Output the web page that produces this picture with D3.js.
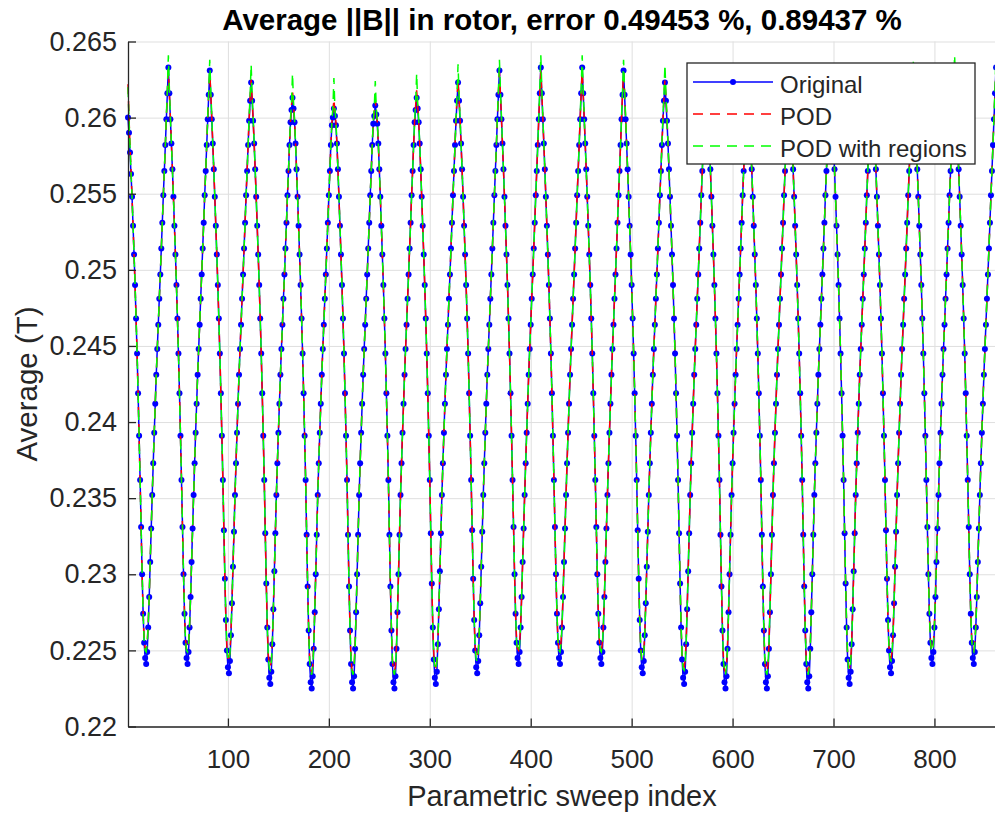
<!DOCTYPE html>
<html>
<head>
<meta charset="utf-8">
<script src="https://cdn.jsdelivr.net/npm/d3@7"></script>
<style>
  html, body { margin: 0; padding: 0; background: #fff; }
  svg { display: block; font-family: "Liberation Sans", Arial, Helvetica, sans-serif; }
</style>
</head>
<body>
<svg id="chart" width="995" height="814"></svg>
<script>
// Values, in units of 1e-4 T; one line per block of 41 sweep points.
var original = [
  2600,2590,2577,2563,2548,2529,2510,2490,2468,2445,2419,2391,2362,2331,2300,2274,2255,2245,2241,2249,2265,2285,2308,2330,2352,2373,2393,2412,2431,2448,2464,2481,2497,2514,2531,2549,2565,2582,2599,2616,2633,
  2616,2599,2583,2566,2548,2529,2510,2490,2468,2445,2419,2391,2362,2331,2300,2274,2255,2245,2241,2249,2265,2285,2308,2330,2352,2373,2393,2412,2431,2448,2464,2481,2497,2514,2531,2549,2565,2582,2599,2615,2631,
  2615,2599,2583,2566,2548,2529,2510,2490,2468,2445,2419,2391,2362,2329,2297,2270,2250,2239,2235,2243,2260,2281,2305,2328,2352,2373,2393,2412,2431,2448,2464,2481,2497,2514,2531,2549,2565,2582,2598,2611,2623,
  2611,2598,2583,2566,2548,2529,2510,2490,2468,2445,2419,2391,2362,2327,2294,2265,2244,2232,2228,2236,2254,2277,2302,2327,2352,2373,2393,2412,2431,2448,2464,2481,2497,2514,2531,2549,2565,2582,2597,2605,2613,
  2606,2597,2583,2566,2548,2529,2510,2490,2468,2445,2419,2391,2362,2326,2292,2263,2241,2229,2225,2233,2251,2275,2300,2326,2352,2373,2393,2412,2431,2448,2464,2481,2497,2514,2531,2549,2565,2582,2595,2600,2606,
  2601,2595,2583,2566,2548,2529,2510,2490,2468,2445,2419,2391,2362,2326,2292,2263,2241,2229,2225,2233,2251,2275,2300,2326,2352,2373,2393,2412,2431,2448,2464,2481,2497,2514,2531,2549,2565,2582,2596,2601,2608,
  2602,2596,2583,2566,2548,2529,2510,2490,2468,2445,2419,2391,2362,2326,2292,2263,2241,2229,2225,2233,2251,2275,2300,2326,2352,2373,2393,2412,2431,2448,2464,2481,2497,2514,2531,2549,2565,2582,2597,2605,2613,
  2606,2597,2583,2566,2548,2529,2510,2490,2468,2445,2419,2391,2362,2327,2294,2265,2244,2232,2228,2236,2254,2277,2302,2327,2352,2373,2393,2412,2431,2448,2464,2481,2497,2514,2531,2549,2565,2582,2598,2611,2623,
  2611,2598,2583,2566,2548,2529,2510,2490,2468,2445,2419,2391,2362,2329,2297,2270,2250,2239,2235,2243,2260,2281,2305,2328,2352,2373,2393,2412,2431,2448,2464,2481,2497,2514,2531,2549,2565,2582,2599,2615,2631,
  2615,2599,2583,2566,2548,2529,2510,2490,2468,2445,2419,2391,2362,2331,2300,2274,2255,2245,2241,2249,2265,2285,2308,2330,2352,2373,2393,2412,2431,2448,2464,2481,2497,2514,2531,2549,2565,2582,2599,2616,2633,
  2616,2599,2583,2566,2548,2529,2510,2490,2468,2445,2419,2391,2362,2331,2300,2274,2255,2245,2241,2249,2265,2285,2308,2330,2352,2373,2393,2412,2431,2448,2464,2481,2497,2514,2531,2549,2565,2582,2599,2616,2633,
  2616,2599,2583,2566,2548,2529,2510,2490,2468,2445,2419,2391,2362,2331,2300,2274,2255,2245,2241,2249,2265,2285,2308,2330,2352,2373,2393,2412,2431,2448,2464,2481,2497,2514,2531,2549,2565,2582,2599,2615,2631,
  2615,2599,2583,2566,2548,2529,2510,2490,2468,2445,2419,2391,2362,2329,2297,2270,2250,2239,2235,2243,2260,2281,2305,2328,2352,2373,2393,2412,2431,2448,2464,2481,2497,2514,2531,2549,2565,2582,2598,2611,2623,
  2611,2598,2583,2566,2548,2529,2510,2490,2468,2445,2419,2391,2362,2327,2294,2265,2244,2232,2228,2236,2254,2277,2302,2327,2352,2373,2393,2412,2431,2448,2464,2481,2497,2514,2531,2549,2565,2582,2597,2605,2613,
  2606,2597,2583,2566,2548,2529,2510,2490,2468,2445,2419,2391,2362,2326,2292,2263,2241,2229,2225,2233,2251,2275,2300,2326,2352,2373,2393,2412,2431,2448,2464,2481,2497,2514,2531,2549,2565,2582,2595,2600,2606,
  2601,2595,2583,2566,2548,2529,2510,2490,2468,2445,2419,2391,2362,2326,2292,2263,2241,2229,2225,2233,2251,2275,2300,2326,2352,2373,2393,2412,2431,2448,2464,2481,2497,2514,2531,2549,2565,2582,2596,2601,2608,
  2602,2596,2583,2566,2548,2529,2510,2490,2468,2445,2419,2391,2362,2326,2292,2263,2241,2229,2225,2233,2251,2275,2300,2326,2352,2373,2393,2412,2431,2448,2464,2481,2497,2514,2531,2549,2565,2582,2597,2605,2613,
  2606,2597,2583,2566,2548,2529,2510,2490,2468,2445,2419,2391,2362,2327,2294,2265,2244,2232,2228,2236,2254,2277,2302,2327,2352,2373,2393,2412,2431,2448,2464,2481,2497,2514,2531,2549,2565,2582,2598,2611,2623,
  2611,2598,2583,2566,2548,2529,2510,2490,2468,2445,2419,2391,2362,2329,2297,2270,2250,2239,2235,2243,2260,2281,2305,2328,2352,2373,2393,2412,2431,2448,2464,2481,2497,2514,2531,2549,2565,2582,2599,2615,2631,
  2615,2599,2583,2566,2548,2529,2510,2490,2468,2445,2419,2391,2362,2331,2300,2274,2255,2245,2241,2249,2265,2285,2308,2330,2352,2373,2393,2412,2431,2448,2464,2481,2497,2514,2531,2549,2565,2582,2599,2616,2633,
  2616,2599,2583,2566,2548,2529,2510,2490,2468,2445,2419,2391,2362,2331,2300,2274,2255,2245,2241,2249,2265,2285,2308,2330,2352,2373,2393,2412,2431,2448,2464,2481,2497,2514,2531,2549,2565,2582,2599,2616,2633
];

var pod = [
  2622,2600,2582,2565,2548,2529,2510,2490,2468,2445,2419,2391,2362,2331,2300,2274,2257,2251,2250,2255,2267,2285,2308,2330,2352,2373,2393,2412,2431,2448,2464,2481,2497,2514,2531,2549,2565,2582,2600,2616,2631,
  2616,2600,2583,2566,2548,2529,2510,2490,2468,2445,2419,2391,2362,2331,2300,2274,2257,2251,2250,2255,2267,2285,2308,2330,2352,2373,2393,2412,2431,2448,2464,2481,2497,2514,2531,2549,2565,2582,2600,2616,2630,
  2616,2600,2583,2566,2548,2529,2510,2490,2468,2445,2419,2391,2362,2329,2297,2270,2252,2245,2245,2249,2262,2281,2305,2328,2352,2373,2393,2412,2431,2448,2464,2481,2497,2514,2531,2549,2565,2582,2599,2613,2625,
  2613,2599,2583,2566,2548,2529,2510,2490,2468,2445,2419,2391,2362,2327,2294,2266,2247,2240,2239,2243,2256,2277,2302,2327,2352,2373,2393,2412,2431,2448,2464,2481,2497,2514,2531,2549,2565,2582,2598,2608,2618,
  2608,2598,2583,2566,2548,2529,2510,2490,2468,2445,2419,2391,2362,2326,2292,2264,2244,2237,2236,2240,2253,2275,2300,2326,2352,2373,2393,2412,2431,2448,2464,2481,2497,2514,2531,2549,2565,2582,2597,2604,2612,
  2604,2597,2583,2566,2548,2529,2510,2490,2468,2445,2419,2391,2362,2326,2292,2264,2244,2237,2236,2240,2253,2275,2300,2326,2352,2373,2393,2412,2431,2448,2464,2481,2497,2514,2531,2549,2565,2582,2597,2604,2612,
  2604,2597,2583,2566,2548,2529,2510,2490,2468,2445,2419,2391,2362,2326,2292,2264,2244,2237,2236,2240,2253,2275,2300,2326,2352,2373,2393,2412,2431,2448,2464,2481,2497,2514,2531,2549,2565,2582,2598,2608,2618,
  2608,2598,2583,2566,2548,2529,2510,2490,2468,2445,2419,2391,2362,2327,2294,2266,2247,2240,2239,2243,2256,2277,2302,2327,2352,2373,2393,2412,2431,2448,2464,2481,2497,2514,2531,2549,2565,2582,2599,2613,2625,
  2613,2599,2583,2566,2548,2529,2510,2490,2468,2445,2419,2391,2362,2329,2297,2270,2252,2245,2245,2249,2262,2281,2305,2328,2352,2373,2393,2412,2431,2448,2464,2481,2497,2514,2531,2549,2565,2582,2600,2616,2630,
  2616,2600,2583,2566,2548,2529,2510,2490,2468,2445,2419,2391,2362,2331,2300,2274,2257,2251,2250,2255,2267,2285,2308,2330,2352,2373,2393,2412,2431,2448,2464,2481,2497,2514,2531,2549,2565,2582,2600,2616,2631,
  2616,2600,2583,2566,2548,2529,2510,2490,2468,2445,2419,2391,2362,2331,2300,2274,2257,2251,2250,2255,2267,2285,2308,2330,2352,2373,2393,2412,2431,2448,2464,2481,2497,2514,2531,2549,2565,2582,2600,2616,2631,
  2616,2600,2583,2566,2548,2529,2510,2490,2468,2445,2419,2391,2362,2331,2300,2274,2257,2251,2250,2255,2267,2285,2308,2330,2352,2373,2393,2412,2431,2448,2464,2481,2497,2514,2531,2549,2565,2582,2600,2616,2630,
  2616,2600,2583,2566,2548,2529,2510,2490,2468,2445,2419,2391,2362,2329,2297,2270,2252,2245,2245,2249,2262,2281,2305,2328,2352,2373,2393,2412,2431,2448,2464,2481,2497,2514,2531,2549,2565,2582,2599,2613,2625,
  2613,2599,2583,2566,2548,2529,2510,2490,2468,2445,2419,2391,2362,2327,2294,2266,2247,2240,2239,2243,2256,2277,2302,2327,2352,2373,2393,2412,2431,2448,2464,2481,2497,2514,2531,2549,2565,2582,2598,2608,2618,
  2608,2598,2583,2566,2548,2529,2510,2490,2468,2445,2419,2391,2362,2326,2292,2264,2244,2237,2236,2240,2253,2275,2300,2326,2352,2373,2393,2412,2431,2448,2464,2481,2497,2514,2531,2549,2565,2582,2597,2604,2612,
  2604,2597,2583,2566,2548,2529,2510,2490,2468,2445,2419,2391,2362,2326,2292,2264,2244,2237,2236,2240,2253,2275,2300,2326,2352,2373,2393,2412,2431,2448,2464,2481,2497,2514,2531,2549,2565,2582,2597,2604,2612,
  2604,2597,2583,2566,2548,2529,2510,2490,2468,2445,2419,2391,2362,2326,2292,2264,2244,2237,2236,2240,2253,2275,2300,2326,2352,2373,2393,2412,2431,2448,2464,2481,2497,2514,2531,2549,2565,2582,2598,2608,2618,
  2608,2598,2583,2566,2548,2529,2510,2490,2468,2445,2419,2391,2362,2327,2294,2266,2247,2240,2239,2243,2256,2277,2302,2327,2352,2373,2393,2412,2431,2448,2464,2481,2497,2514,2531,2549,2565,2582,2599,2613,2625,
  2613,2599,2583,2566,2548,2529,2510,2490,2468,2445,2419,2391,2362,2329,2297,2270,2252,2245,2245,2249,2262,2281,2305,2328,2352,2373,2393,2412,2431,2448,2464,2481,2497,2514,2531,2549,2565,2582,2600,2616,2630,
  2616,2600,2583,2566,2548,2529,2510,2490,2468,2445,2419,2391,2362,2331,2300,2274,2257,2251,2250,2255,2267,2285,2308,2330,2352,2373,2393,2412,2431,2448,2464,2481,2497,2514,2531,2549,2565,2582,2600,2616,2631,
  2616,2600,2583,2566,2548,2529,2510,2490,2468,2445,2419,2391,2362,2331,2300,2274,2257,2251,2250,2255,2267,2285,2308,2330,2352,2373,2393,2412,2431,2448,2464,2481,2497,2514,2531,2549,2565,2582,2600,2616,2631
];

var podRegions = [
  2620,2599,2581,2564,2548,2529,2510,2490,2468,2445,2419,2391,2362,2331,2301,2275,2256,2250,2249,2254,2266,2286,2308,2330,2352,2373,2393,2412,2431,2448,2464,2481,2497,2514,2531,2549,2565,2582,2601,2619,2641,
  2619,2601,2583,2566,2548,2529,2510,2490,2468,2445,2419,2391,2362,2331,2301,2275,2256,2250,2249,2254,2266,2286,2308,2330,2352,2373,2393,2412,2431,2448,2464,2481,2497,2514,2531,2549,2565,2582,2601,2618,2638,
  2618,2601,2583,2566,2548,2529,2510,2490,2468,2445,2419,2391,2362,2329,2298,2271,2251,2244,2243,2248,2261,2282,2305,2328,2352,2373,2393,2412,2431,2448,2464,2481,2497,2514,2531,2549,2565,2582,2600,2615,2635,
  2615,2600,2583,2566,2548,2529,2510,2490,2468,2445,2419,2391,2362,2327,2295,2266,2246,2238,2237,2242,2255,2278,2302,2327,2352,2373,2393,2412,2431,2448,2464,2481,2497,2514,2531,2549,2565,2582,2599,2610,2629,
  2610,2599,2583,2566,2548,2529,2510,2490,2468,2445,2419,2391,2362,2326,2293,2264,2243,2236,2234,2239,2252,2276,2300,2326,2352,2373,2393,2412,2431,2448,2464,2481,2497,2514,2531,2549,2565,2582,2598,2606,2626,
  2606,2598,2583,2566,2548,2529,2510,2490,2468,2445,2419,2391,2362,2326,2293,2264,2243,2236,2234,2239,2252,2276,2300,2326,2352,2373,2393,2412,2431,2448,2464,2481,2497,2514,2531,2549,2565,2582,2598,2606,2624,
  2606,2598,2583,2566,2548,2529,2510,2490,2468,2445,2419,2391,2362,2326,2293,2264,2243,2236,2234,2239,2252,2276,2300,2326,2352,2373,2393,2412,2431,2448,2464,2481,2497,2514,2531,2549,2565,2582,2599,2610,2629,
  2610,2599,2583,2566,2548,2529,2510,2490,2468,2445,2419,2391,2362,2327,2295,2266,2246,2238,2237,2242,2255,2278,2302,2327,2352,2373,2393,2412,2431,2448,2464,2481,2497,2514,2531,2549,2565,2582,2600,2615,2635,
  2615,2600,2583,2566,2548,2529,2510,2490,2468,2445,2419,2391,2362,2329,2298,2271,2251,2244,2243,2248,2261,2282,2305,2328,2352,2373,2393,2412,2431,2448,2464,2481,2497,2514,2531,2549,2565,2582,2601,2618,2638,
  2618,2601,2583,2566,2548,2529,2510,2490,2468,2445,2419,2391,2362,2331,2301,2275,2256,2250,2249,2254,2266,2286,2308,2330,2352,2373,2393,2412,2431,2448,2464,2481,2497,2514,2531,2549,2565,2582,2601,2619,2641,
  2619,2601,2583,2566,2548,2529,2510,2490,2468,2445,2419,2391,2362,2331,2301,2275,2256,2250,2249,2254,2266,2286,2308,2330,2352,2373,2393,2412,2431,2448,2464,2481,2497,2514,2531,2549,2565,2582,2601,2619,2641,
  2619,2601,2583,2566,2548,2529,2510,2490,2468,2445,2419,2391,2362,2331,2301,2275,2256,2250,2249,2254,2266,2286,2308,2330,2352,2373,2393,2412,2431,2448,2464,2481,2497,2514,2531,2549,2565,2582,2601,2618,2638,
  2618,2601,2583,2566,2548,2529,2510,2490,2468,2445,2419,2391,2362,2329,2298,2271,2251,2244,2243,2248,2261,2282,2305,2328,2352,2373,2393,2412,2431,2448,2464,2481,2497,2514,2531,2549,2565,2582,2600,2615,2635,
  2615,2600,2583,2566,2548,2529,2510,2490,2468,2445,2419,2391,2362,2327,2295,2266,2246,2238,2237,2242,2255,2278,2302,2327,2352,2373,2393,2412,2431,2448,2464,2481,2497,2514,2531,2549,2565,2582,2599,2610,2629,
  2610,2599,2583,2566,2548,2529,2510,2490,2468,2445,2419,2391,2362,2326,2293,2264,2243,2236,2234,2239,2252,2276,2300,2326,2352,2373,2393,2412,2431,2448,2464,2481,2497,2514,2531,2549,2565,2582,2598,2606,2626,
  2606,2598,2583,2566,2548,2529,2510,2490,2468,2445,2419,2391,2362,2326,2293,2264,2243,2236,2234,2239,2252,2276,2300,2326,2352,2373,2393,2412,2431,2448,2464,2481,2497,2514,2531,2549,2565,2582,2598,2606,2624,
  2606,2598,2583,2566,2548,2529,2510,2490,2468,2445,2419,2391,2362,2326,2293,2264,2243,2236,2234,2239,2252,2276,2300,2326,2352,2373,2393,2412,2431,2448,2464,2481,2497,2514,2531,2549,2565,2582,2599,2610,2629,
  2610,2599,2583,2566,2548,2529,2510,2490,2468,2445,2419,2391,2362,2327,2295,2266,2246,2238,2237,2242,2255,2278,2302,2327,2352,2373,2393,2412,2431,2448,2464,2481,2497,2514,2531,2549,2565,2582,2600,2615,2635,
  2615,2600,2583,2566,2548,2529,2510,2490,2468,2445,2419,2391,2362,2329,2298,2271,2251,2244,2243,2248,2261,2282,2305,2328,2352,2373,2393,2412,2431,2448,2464,2481,2497,2514,2531,2549,2565,2582,2601,2618,2638,
  2618,2601,2583,2566,2548,2529,2510,2490,2468,2445,2419,2391,2362,2331,2301,2275,2256,2250,2249,2254,2266,2286,2308,2330,2352,2373,2393,2412,2431,2448,2464,2481,2497,2514,2531,2549,2565,2582,2601,2619,2641,
  2619,2601,2583,2566,2548,2529,2510,2490,2468,2445,2419,2391,2362,2331,2301,2275,2256,2250,2249,2254,2266,2286,2308,2330,2352,2373,2393,2412,2431,2448,2464,2481,2497,2514,2531,2549,2565,2582,2601,2619,2641
];

var xTicks = [100, 200, 300, 400, 500, 600, 700, 800];
var yTicks = [0.22, 0.225, 0.23, 0.235, 0.24, 0.245, 0.25, 0.255, 0.26, 0.265];
var yTickLabels = ['0.22', '0.225', '0.23', '0.235', '0.24', '0.245', '0.25', '0.255', '0.26', '0.265'];
var legendLabels = ['Original', 'POD', 'POD with regions'];
var titleText = 'Average ||B|| in rotor, error 0.49453 %, 0.89437 %';
var xLabel = 'Parametric sweep index';
var yLabel = 'Average (T)';

(function () {
  'use strict';

  var W = 995, H = 814;
  var plot = { left: 128, right: 996, top: 41.5, bottom: 726.5 };
  var ink = '#262626';
  var gridColor = '#dfdfdf';

  var svg = d3.select('#chart');
  svg.append('rect').attr('width', W).attr('height', H).attr('fill', '#fff');

  var x = d3.scaleLinear().domain([1, original.length]).range([plot.left, plot.right]);
  var y = d3.scaleLinear().domain([0.22, 0.265]).range([plot.bottom, plot.top]);

  // grid lines
  svg.append('g')
    .attr('transform', 'translate(0,' + plot.bottom + ')')
    .call(d3.axisBottom(x).tickValues(xTicks).tickSize(-(plot.bottom - plot.top)).tickFormat(''))
    .call(function (g) {
      g.select('.domain').remove();
      g.selectAll('line').attr('stroke', gridColor).attr('stroke-width', 1);
    });
  svg.append('g')
    .attr('transform', 'translate(' + plot.left + ',0)')
    .call(d3.axisLeft(y).tickValues(yTicks).tickSize(-(plot.right - plot.left)).tickFormat(''))
    .call(function (g) {
      g.select('.domain').remove();
      g.selectAll('line').attr('stroke', gridColor).attr('stroke-width', 1);
    });

  var line = d3.line()
    .x(function (d, i) { return x(i + 1); })
    .y(function (d) { return y(d / 1e4); });

  var series = svg.append('g');

  // Original: blue solid with dot markers
  series.append('path')
    .datum(original)
    .attr('d', line)
    .attr('fill', 'none')
    .attr('stroke', '#0000ff')
    .attr('stroke-width', 1.5);
  series.selectAll('.dot')
    .data(original)
    .enter()
    .append('circle')
    .attr('class', 'dot')
    .attr('cx', function (d, i) { return x(i + 1); })
    .attr('cy', function (d) { return y(d / 1e4); })
    .attr('r', 3)
    .attr('fill', '#0000ff');

  // POD and POD with regions: dashed on top
  series.append('path')
    .datum(pod)
    .attr('d', line)
    .attr('fill', 'none')
    .attr('stroke', '#ff0000')
    .attr('stroke-width', 1.5)
    .attr('stroke-dasharray', '10,7');
  series.append('path')
    .datum(podRegions)
    .attr('d', line)
    .attr('fill', 'none')
    .attr('stroke', '#00ff00')
    .attr('stroke-width', 1.5)
    .attr('stroke-dasharray', '10,7');

  // axes, ticks pointing inward
  var yAxis = svg.append('g')
    .attr('transform', 'translate(' + plot.left + ',0)')
    .call(d3.axisLeft(y)
      .tickValues(yTicks)
      .tickFormat(function (d, i) { return yTickLabels[i]; })
      .tickSizeInner(-8)
      .tickSizeOuter(0)
      .tickPadding(11));
  var xAxis = svg.append('g')
    .attr('transform', 'translate(0,' + plot.bottom + ')')
    .call(d3.axisBottom(x)
      .tickValues(xTicks)
      .tickFormat(d3.format('d'))
      .tickSizeInner(-8)
      .tickSizeOuter(0)
      .tickPadding(23));
  [xAxis, yAxis].forEach(function (g) {
    g.select('.domain').attr('stroke', ink).attr('stroke-width', 1.3);
    g.selectAll('.tick line').attr('stroke', ink).attr('stroke-width', 1.3);
    g.selectAll('.tick text')
      .attr('fill', ink)
      .style('font-family', '"Liberation Sans", Arial, sans-serif');
  });
  yAxis.selectAll('.tick text').style('font-size', '27px');
  xAxis.selectAll('.tick text').style('font-size', '26px');

  // title and axis labels
  svg.append('text')
    .attr('x', (plot.left + plot.right) / 2)
    .attr('y', 30)
    .attr('text-anchor', 'middle')
    .style('font-size', '29.5px')
    .style('font-weight', 'bold')
    .attr('fill', '#000')
    .text(titleText);
  svg.append('text')
    .attr('x', (plot.left + plot.right) / 2)
    .attr('y', 806)
    .attr('text-anchor', 'middle')
    .style('font-size', '29px')
    .attr('fill', ink)
    .text(xLabel);
  svg.append('text')
    .attr('transform', 'translate(37,384) rotate(-90)')
    .attr('text-anchor', 'middle')
    .style('font-size', '29.5px')
    .attr('fill', ink)
    .text(yLabel);

  // legend
  var legend = svg.append('g').attr('transform', 'translate(687,63)');
  legend.append('rect')
    .attr('width', 288)
    .attr('height', 101)
    .attr('fill', '#fff')
    .attr('stroke', ink)
    .attr('stroke-width', 1.3);
  var styles = [
    { color: '#0000ff', dash: null, marker: true },
    { color: '#ff0000', dash: '10,7', marker: false },
    { color: '#00ff00', dash: '10,7', marker: false }
  ];
  legendLabels.forEach(function (label, i) {
    var ly = 19 + i * 32;
    var s = styles[i];
    legend.append('line')
      .attr('x1', 6).attr('x2', 86)
      .attr('y1', ly).attr('y2', ly)
      .attr('stroke', s.color)
      .attr('stroke-width', 1.5)
      .attr('stroke-dasharray', s.dash);
    if (s.marker) {
      legend.append('circle').attr('cx', 46).attr('cy', ly).attr('r', 3).attr('fill', s.color);
    }
    legend.append('text')
      .attr('x', 93)
      .attr('y', ly + 10.5)
      .style('font-size', '24px')
      .attr('fill', ink)
      .text(label);
  });
})();
</script>
</body>
</html>
